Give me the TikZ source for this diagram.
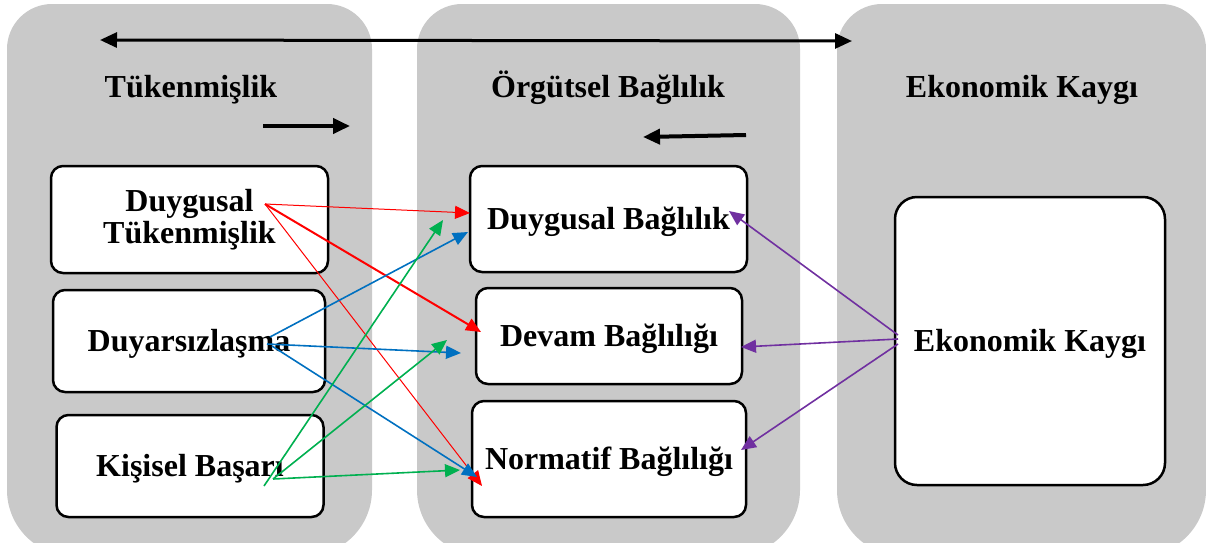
\documentclass[tikz,border=0pt]{standalone}
\usepackage{fontspec}
\setmainfont{Liberation Serif}
\usetikzlibrary{arrows.meta}
\definecolor{panelgray}{RGB}{201,201,201}
\definecolor{myred}{RGB}{255,0,0}
\definecolor{myblue}{RGB}{0,112,192}
\definecolor{mygreen}{RGB}{0,176,80}
\definecolor{mypurple}{RGB}{112,48,160}
\begin{document}
\begin{tikzpicture}[x=1pt,y=-1pt,
  panel/.style={fill=panelgray, draw=none},
  box/.style={draw=black, fill=white, line width=2.5pt, rounded corners=12pt,
    inner sep=0pt, align=center, font=\fontsize{32}{32}\selectfont\bfseries,
    text height=21pt, text depth=0pt},
  boxtwo/.style={draw=black, fill=white, line width=2.5pt, rounded corners=12pt,
    inner sep=0pt, align=center, font=\fontsize{32}{32}\selectfont\bfseries},
  title/.style={anchor=base, inner sep=0pt, font=\fontsize{32}{32}\selectfont\bfseries},
  bigarrow/.style={line width=3pt, -{Triangle[length=17pt,width=15pt]}},
  dblarrow/.style={line width=3pt, {Triangle[length=17pt,width=15pt]}-{Triangle[length=17pt,width=15pt]}},
  link/.style={line width=1.6pt, -{Triangle[length=15pt,width=13pt]}},
  thinlink/.style={line width=1pt, -{Triangle[length=15pt,width=13pt]}},
]
\useasboundingbox (0,0) rectangle (1206,542);
\begin{scope}
  \clip (0,0) rectangle (1206,542);
  \fill[panel] (7,300) [rounded corners=45pt] -- (7,4) -- (372,4) -- (372,300)
     [rounded corners=66pt] -- (372,556) -- (7,556) -- cycle;
  \fill[panel] (417,300) [rounded corners=45pt] -- (417,4) -- (800,4) -- (800,300)
     [rounded corners=66pt] -- (800,556) -- (417,556) -- cycle;
  \fill[panel] (837,300) [rounded corners=45pt] -- (837,4) -- (1206,4) -- (1206,300)
     [rounded corners=66pt] -- (1206,556) -- (837,556) -- cycle;
\end{scope}

% titles
\node[title] (t1) at (191,97) {Tükenmişlik};
\node[title] (t2) at (608,97) {Örgütsel Bağlılık};
\node[title] (t3) at (1022,97) {Ekonomik Kaygı};

% boxes
\node[boxtwo, minimum width=277pt, minimum height=107pt] (dt) at (189.5,219.5) {Duygusal\\Tükenmişlik};
\node[box, minimum width=272pt, minimum height=102pt] (dy) at (189,341) {Duyarsızlaşma};
\node[box, minimum width=267pt, minimum height=102pt] (kb) at (190,466) {Kişisel Başarı};
\node[box, minimum width=277pt, minimum height=106pt] (db) at (608.5,219) {Duygusal Bağlılık};
\node[box, minimum width=266pt, minimum height=96pt] (dv) at (609,336) {Devam Bağlılığı};
\node[box, minimum width=274pt, minimum height=116pt] (nb) at (609,459) {Normatif Bağlılığı};
\node[box, rounded corners=22pt, minimum width=270pt, minimum height=288pt] (ek) at (1030,341) {Ekonomik Kaygı};

% top arrows
\coordinate (topL) at (100,40);
\coordinate (topR) at (852,41);
\draw[dblarrow] (topL) -- (topR);
\coordinate (rA) at (263,126);
\coordinate (rB) at (350,126);
\draw[bigarrow, line width=4pt] (rA) -- (rB);
\coordinate (lA) at (746,135);
\coordinate (lB) at (643,137);
\draw[bigarrow, line width=4pt] (lA) -- (lB);

% red
\coordinate (rs) at (265,204);
\coordinate (re1) at (470,213);
\coordinate (re2) at (481,332);
\coordinate (re3) at (482,486);
\draw[thinlink, myred] (rs) -- (re1);
\draw[link, myred, line width=2pt] (rs) -- (re2);
\draw[thinlink, myred] (rs) -- (re3);

% blue
\coordinate (bs1) at (270,337);
\coordinate (bs2) at (267,344);
\coordinate (bs3) at (272,346);
\coordinate (be1) at (468,232);
\coordinate (be2) at (461,353);
\coordinate (be3) at (477,477);
\draw[link, myblue] (bs1) -- (be1);
\draw[link, myblue] (bs2) -- (be2);
\draw[link, myblue] (bs3) -- (be3);

% green
\coordinate (gs1) at (264,486);
\coordinate (gs2) at (273,479);
\coordinate (ge1) at (443,220);
\coordinate (ge2) at (447,340);
\coordinate (ge3) at (460,470);
\draw[link, mygreen] (gs1) -- (ge1);
\draw[link, mygreen] (gs2) -- (ge2);
\draw[link, mygreen] (gs2) -- (ge3);

% purple
\coordinate (ps1) at (898,335);
\coordinate (ps2) at (898,339);
\coordinate (ps3) at (898,344);
\coordinate (pe1) at (729,211);
\coordinate (pe2) at (741,347);
\coordinate (pe3) at (741,450);
\draw[link, mypurple] (ps1) -- (pe1);
\draw[link, mypurple] (ps2) -- (pe2);
\draw[link, mypurple] (ps3) -- (pe3);
\end{tikzpicture}
\end{document}
